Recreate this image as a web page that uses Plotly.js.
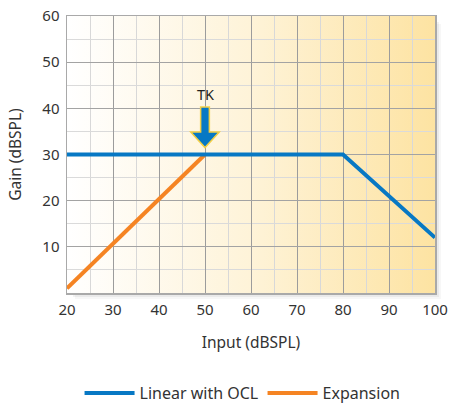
<!DOCTYPE html>
<html>
<head>
<meta charset="utf-8">
<script src="https://cdn.plot.ly/plotly-3.0.1.min.js"></script>
<style>html,body{margin:0;padding:0;background:#fff;}#chart{width:452px;height:406px;}</style>
</head>
<body>
<div id="chart"></div>
<script>
// ---- data ----
const inputLinear = [20, 80, 100];
const gainLinear  = [30, 30, 12];
const inputExpansion = [20, 50];
const gainExpansion  = [1, 30];
const xTickVals = [20, 30, 40, 50, 60, 70, 80, 90, 100];
const yTickVals = [10, 20, 30, 40, 50, 60];
const seriesNames = ['Linear with OCL', 'Expansion'];
const tkLabel = 'TK';
const tkInput = 50;
const tkGain = 30;

// ---- styling ----
const blue = '#0778c4';
const orange = '#f58423';
const font = 'Noto Sans, Lato, sans-serif';

const gradSvg = "<svg xmlns='http://www.w3.org/2000/svg' width='200' height='100' preserveAspectRatio='none'>" +
  "<defs><linearGradient id='g' x1='0' y1='0' x2='1' y2='0'>" +
  "<stop offset='0' stop-color='#ffffff'/><stop offset='0.5' stop-color='#fef3d8'/><stop offset='1' stop-color='#fde3a2'/>" +
  "</linearGradient></defs><rect width='200' height='100' fill='url(#g)'/></svg>";
const gradSrc = 'data:image/svg+xml;charset=utf-8,' + encodeURIComponent(gradSvg);

// TK arrow geometry built around the TK point
const sw = 0.95, hw = 3.1;
const topY = tkGain + 10.3, headY = tkGain + 4.9, tipY = tkGain + 1.5;
const arrowPath = `M${tkInput - sw},${topY} L${tkInput + sw},${topY} L${tkInput + sw},${headY} L${tkInput + hw},${headY} L${tkInput},${tipY} L${tkInput - hw},${headY} L${tkInput - sw},${headY} Z`;

// shadow (L shape outside plot area), paper coords
const px = 1 / 368, py = 1 / 277;
function shadow(d, op) {
  return {
    type: 'path', xref: 'paper', yref: 'paper', layer: 'below',
    path: `M${1},${1 - (d + 2) * py} L${1 + d * px},${1 - (d + 2) * py} L${1 + d * px},${-d * py} L${(d + 2) * px},${-d * py} L${(d + 2) * px},0 L1,0 Z`,
    fillcolor: `rgba(0,0,0,${op})`, line: {width: 0}
  };
}

const traces = [
  {
    x: inputExpansion, y: gainExpansion, name: seriesNames[1], mode: 'lines',
    line: {color: orange, width: 4}, legendrank: 2, hoverinfo: 'skip'
  },
  {
    x: inputLinear, y: gainLinear, name: seriesNames[0], mode: 'lines',
    line: {color: blue, width: 4}, legendrank: 1, hoverinfo: 'skip'
  }
];

const layout = {
  width: 452, height: 406,
  margin: {l: 67, r: 17, t: 16, b: 113},
  paper_bgcolor: '#ffffff',
  plot_bgcolor: 'rgba(0,0,0,0)',
  font: {family: font, size: 15, color: '#333333'},
  showlegend: true,
  legend: {
    orientation: 'h', xref: 'container', x: 0.176, xanchor: 'left', yref: 'container', y: 0.032, yanchor: 'middle',
    font: {family: font, size: 16, color: '#333333'}, itemwidth: 50,
    entrywidth: 118, entrywidthmode: 'pixels'
  },
  xaxis: {
    range: [20, 100], tickvals: xTickVals, ticktext: xTickVals.map(String),
    showgrid: true, gridcolor: '#9c9c9c', gridwidth: 1,
    minor: {dtick: 5, tick0: 20, showgrid: true, gridcolor: '#d8d8d8', gridwidth: 1, ticks: ''},
    showline: true, mirror: true, linecolor: '#a9a9a9', linewidth: 1.5,
    zeroline: false, ticks: '', ticklabelstandoff: 2,
    tickfont: {family: font, size: 15, color: '#333333'},
    title: {text: 'Input (dBSPL)', font: {family: font, size: 15.5, color: '#333333'}, standoff: 19}
  },
  yaxis: {
    range: [0, 60], tickvals: yTickVals, ticktext: yTickVals.map(String),
    showgrid: true, gridcolor: '#a3a3a3', gridwidth: 1,
    minor: {dtick: 5, tick0: 0, showgrid: true, gridcolor: '#dadada', gridwidth: 1, ticks: ''},
    showline: true, mirror: true, linecolor: '#a9a9a9', linewidth: 1.5,
    zeroline: false, ticks: '', ticklabelstandoff: 3,
    tickfont: {family: font, size: 15, color: '#333333'},
    title: {text: 'Gain (dBSPL)', font: {family: font, size: 15.5, color: '#333333'}, standoff: 17}
  },
  images: [{
    source: gradSrc, xref: 'x', yref: 'y', x: 20, y: 60, sizex: 80, sizey: 60,
    sizing: 'stretch', xanchor: 'left', yanchor: 'top', layer: 'below'
  }],
  shapes: [
    shadow(2, 0.07), shadow(4, 0.05), shadow(6, 0.03),
    {
      type: 'path', xref: 'x', yref: 'y', layer: 'above', path: arrowPath,
      fillcolor: blue, line: {color: '#f3cf45', width: 1.5}
    }
  ],
  annotations: [{
    x: tkInput, y: tkGain + 13, xref: 'x', yref: 'y', text: tkLabel, showarrow: false,
    font: {family: font, size: 14.5, color: '#222222'}
  }]
};

Plotly.newPlot('chart', traces, layout, {staticPlot: true, displayModeBar: false});
</script>
</body>
</html>
